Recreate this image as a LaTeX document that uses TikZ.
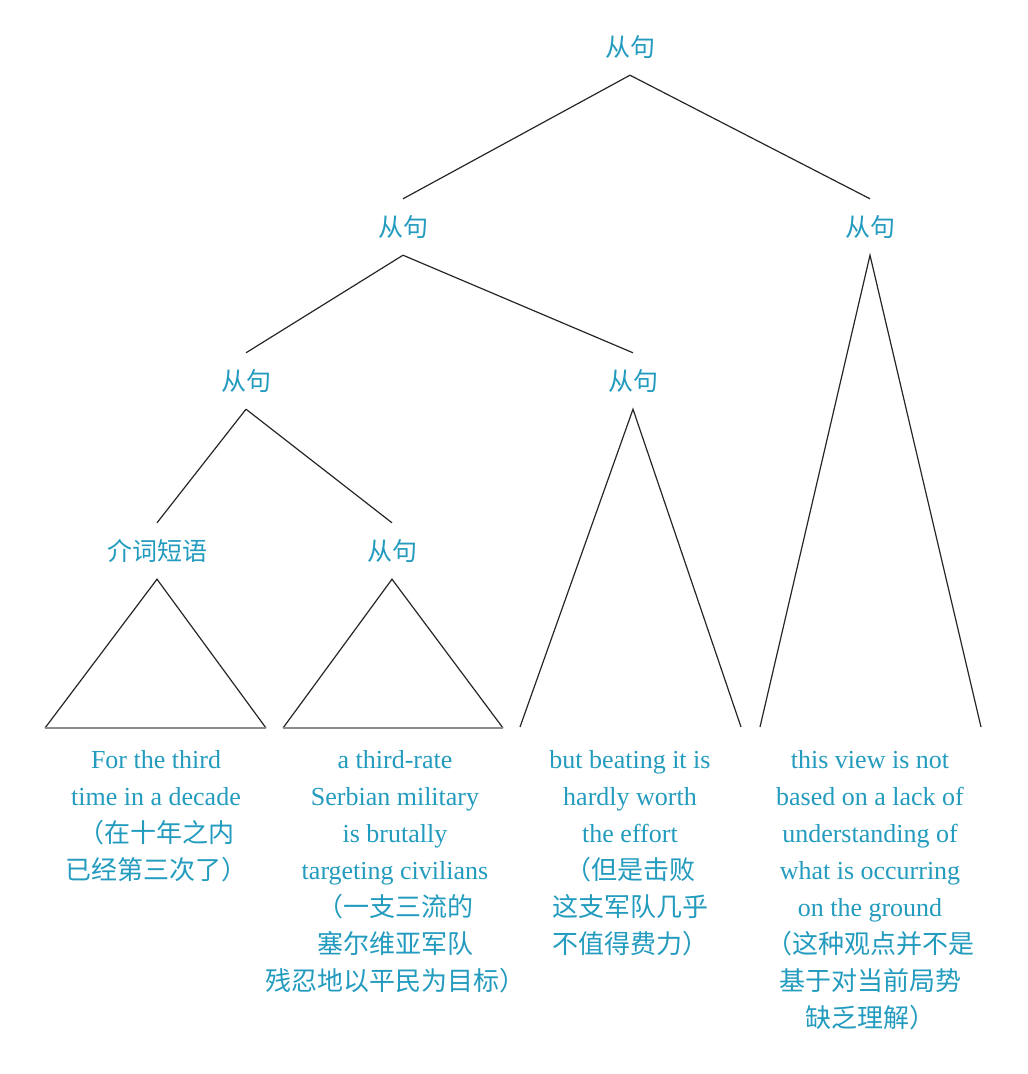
\documentclass[tikz,border=0pt]{standalone}
\usepackage{fontspec}
\setmainfont{Liberation Serif}
\newfontfamily\cjk{Noto Sans CJK SC}
\definecolor{lab}{RGB}{35,155,190}
\begin{document}
\begin{tikzpicture}[x=1pt,y=-1pt,
  tree/.style={line width=1.2pt, draw=black!85},
  baseline/.style={line width=1.2pt, draw=black!45},
  lbl/.style={font=\cjk\fontsize{25}{25}\selectfont, text=lab, minimum height=56pt, inner sep=0pt},
  leaf/.style={font=\fontsize{26}{37}\selectfont, text=lab, align=center, anchor=north, inner sep=0pt}]
\useasboundingbox (0,0) rectangle (1028,1074);
% labels
\node[lbl] (root) at (630,47) {从句};
\node[lbl] (l2a) at (403,227) {从句};
\node[lbl] (l2b) at (870,227) {从句};
\node[lbl] (l3a) at (246,381) {从句};
\node[lbl] (l3b) at (633,381) {从句};
\node[lbl] (l4a) at (157,551) {介词短语};
\node[lbl] (l4b) at (392,551) {从句};
% triangle base corners
\coordinate (t1l) at (45,728);
\coordinate (t1r) at (266,728);
\coordinate (t2l) at (283,728);
\coordinate (t2r) at (503,728);
\coordinate (t3l) at (520,727);
\coordinate (t3r) at (741,727);
\coordinate (t4l) at (760,727);
\coordinate (t4r) at (981,727);
% connectors
\draw[tree] (root.south) -- (l2a.north);
\draw[tree] (root.south) -- (l2b.north);
\draw[tree] (l2a.south) -- (l3a.north);
\draw[tree] (l2a.south) -- (l3b.north);
\draw[tree] (l3a.south) -- (l4a.north);
\draw[tree] (l3a.south) -- (l4b.north);
\draw[tree] (t1l) -- (l4a.south) -- (t1r);
\draw[baseline] (t1l) -- (t1r);
\draw[tree] (t2l) -- (l4b.south) -- (t2r);
\draw[baseline] (t2l) -- (t2r);
\draw[tree] (t3l) -- (l3b.south) -- (t3r);
\draw[tree] (t4l) -- (l2b.south) -- (t4r);
% leaf texts
\node[leaf] (x1) at (156,750) {For the third\\time in a decade\\{\cjk （在十年之内}\\{\cjk 已经第三次了）}};
\node[leaf] (x2) at (395,750) {a third-rate\\Serbian military\\is brutally\\targeting civilians\\{\cjk （一支三流的}\\{\cjk 塞尔维亚军队}\\{\cjk 残忍地以平民为目标）}};
\node[leaf] (x3) at (630,750) {but beating it is\\hardly worth\\the effort\\{\cjk （但是击败}\\{\cjk 这支军队几乎}\\{\cjk 不值得费力）}};
\node[leaf] (x4) at (870,750) {this view is not\\based on a lack of\\understanding of\\what is occurring\\on the ground\\{\cjk （这种观点并不是}\\{\cjk 基于对当前局势}\\{\cjk 缺乏理解）}};
\end{tikzpicture}
\end{document}
